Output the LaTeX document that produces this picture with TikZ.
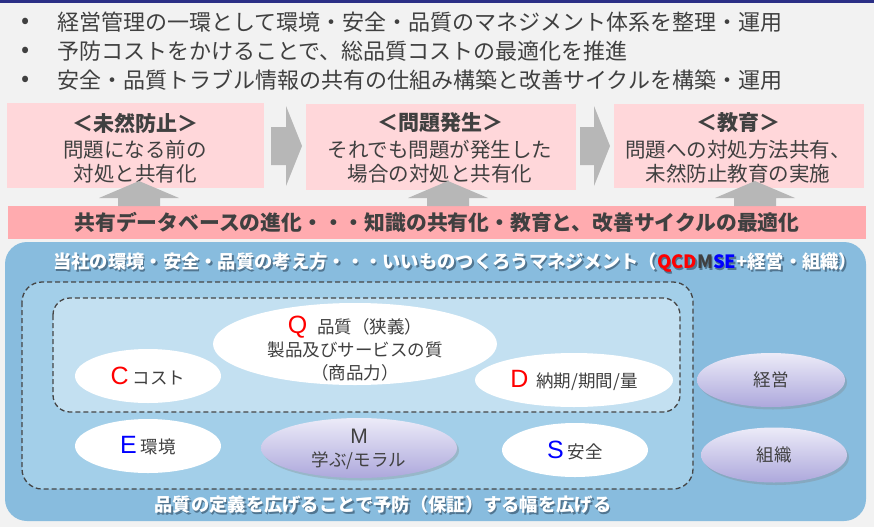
\documentclass[tikz,border=0pt]{standalone}
\usepackage{fontspec}
\setmainfont{Noto Sans CJK JP}
\newfontfamily\latf{Liberation Sans}
\usetikzlibrary{shapes.geometric,shadows}
\definecolor{bgc}{HTML}{F2F2F2}
\definecolor{navy}{HTML}{2B2F86}
\definecolor{tgray}{HTML}{404040}
\definecolor{pinkbox}{HTML}{FFD7DA}
\definecolor{pinkbar}{HTML}{FFABAF}
\definecolor{arrgray}{HTML}{B7B7B7}
\definecolor{blueout}{HTML}{88BCDE}
\definecolor{bluemid}{HTML}{A3CFE9}
\definecolor{bluein}{HTML}{C3E0F1}
\definecolor{dgray}{HTML}{454545}
\definecolor{ptop}{HTML}{ECEBF8}
\definecolor{pbot}{HTML}{ADA8DC}
\definecolor{qred}{HTML}{FF0000}
\definecolor{sblue}{HTML}{0000FF}
\definecolor{mgray}{HTML}{404040}
\definecolor{shc}{HTML}{3A5870}
\newcommand\mytitle[3]{当社の環境・安全・品質の考え方・・・いいものつくろうマネジメント（\textcolor{#1}{QCD}\textcolor{#2}{M}\textcolor{#3}{SE}+経営・組織）}
\tikzset{
 bul/.style={anchor=west, text=tgray, font=\fontsize{22}{26}\selectfont, inner sep=0},
 dot/.style={anchor=center, text=tgray, font=\fontsize{24}{26}\selectfont, inner sep=0},
 pbox/.style={fill=pinkbox, draw=none, inner sep=0, anchor=north west},
 gar/.style={fill=arrgray, draw=none},
 btitle/.style={text=tgray, font=\bfseries\fontsize{21}{25}\selectfont, inner sep=0},
 btxt/.style={text=tgray, align=center, font=\fontsize{20.5}{24}\selectfont, inner sep=0},
 wov/.style={ellipse, fill=white, inner sep=0},
 pov/.style={ellipse, inner sep=0, top color=ptop, bottom color=pbot,
   drop shadow={opacity=0.3, shadow xshift=2pt, shadow yshift=-2.5pt}},
 etxt/.style={text=tgray, font=\fontsize{17.5}{23}\selectfont, align=center, inner sep=0},
 dsh/.style={draw=dgray, line width=1.3pt, dash pattern=on 5pt off 3pt},
 wtxt/.style={text=white, font=\bfseries\fontsize{18.3}{22}\selectfont, inner sep=0},
 stxt/.style={text=shc, opacity=0.7, font=\bfseries\fontsize{18.3}{22}\selectfont, inner sep=0},
}
\begin{document}
\begin{tikzpicture}[x=1pt,y=-1pt]
\useasboundingbox (0,0) rectangle (874,527);
\fill[bgc] (0,0) rectangle (874,527);
\fill[navy] (0,0) rectangle (874,3);
% bullets
\node[dot] (d1) at (26,23) {•};
\node[dot] (d2) at (26,52) {•};
\node[dot] (d3) at (26,81) {•};
\node[bul] (b1) at (57,22) {経営管理の一環として環境・安全・品質のマネジメント体系を整理・運用};
\node[bul] (b2) at (57,51) {予防コストをかけることで、総品質コストの最適化を推進};
\node[bul] (b3) at (57,80) {安全・品質トラブル情報の共有の仕組み構築と改善サイクルを構築・運用};
% pink boxes
\node[pbox, minimum width=257pt, minimum height=85pt] (p1) at (7,103) {};
\node[pbox, minimum width=270pt, minimum height=86pt] (p2) at (306,104) {};
\node[pbox, minimum width=250pt, minimum height=84pt] (p3) at (614,104) {};
\node[btitle] (t1) at (135,123) {＜未然防止＞};
\node[btxt] (x1) at (135,162) {問題になる前の\\対処と共有化};
\node[btitle] (t2) at (440,123) {＜問題発生＞};
\node[btxt] (x2) at (440,162) {それでも問題が発生した\\場合の対処と共有化};
\node[btitle] (t3) at (738,123) {＜教育＞};
\node[btxt] (x3) at (738,162) {問題への対処方法共有、\\未然防止教育の実施};
% right arrows
\fill[gar] (271,127) -- (286,127) -- (286,106) -- (302,146) -- (286,186) -- (286,165) -- (271,165) -- cycle;
\fill[gar] (580,127) -- (594,127) -- (594,106) -- (610,146) -- (594,186) -- (594,165) -- (580,165) -- cycle;
% pink bar
\node[fill=pinkbar, inner sep=0, anchor=north west, minimum width=858pt, minimum height=33pt] (bar) at (8,206) {};
\node[text=tgray, font=\bfseries\fontsize{20.8}{24}\selectfont, inner sep=0] (bart) at (437,222) {共有データベースの進化・・・知識の共有化・教育と、改善サイクルの最適化};
% up arrows
\foreach \cx/\nm in {139/u1,448/u2,755/u3}{
  \fill[gar] (\cx-21,206) -- (\cx-21,198) -- (\cx-40,198) -- (\cx,181) -- (\cx+40,198) -- (\cx+21,198) -- (\cx+21,206) -- cycle;
}
% main blue panel
\fill[blueout, rounded corners=22pt] (5,242) rectangle (866,521);
\node[stxt, anchor=west] (tts) at (54.5,264.5) {\mytitle{shc}{shc}{shc}};
\node[wtxt, anchor=west] (tt) at (53,263) {\mytitle{qred}{mgray}{sblue}};
% dashed regions
\filldraw[dsh, fill=bluemid, rounded corners=20pt] (22,282) rectangle (693,489);
\filldraw[dsh, fill=bluein, rounded corners=17pt] (53,298) rectangle (680,412);
% ellipses
\node[wov, minimum width=284pt, minimum height=82pt] (oq) at (355,344) {};
\node[etxt] (tq) at (355,349) {\textcolor{qred}{\latf\fontsize{25}{28}\selectfont Q}\hspace{10pt}品質（狭義）\\製品及びサービスの質\\（商品力）};
\node[wov, minimum width=146pt, minimum height=54pt] (oc) at (148,376) {};
\node[etxt] (tc) at (148,376) {\textcolor{qred}{\latf\fontsize{25}{28}\selectfont C}\hspace{4pt}コスト};
\node[wov, minimum width=198pt, minimum height=54pt] (od) at (574,380) {};
\node[etxt] (td) at (574,380) {\textcolor{qred}{\latf\fontsize{25}{28}\selectfont D}\hspace{8pt}納期/期間/量};
\node[wov, minimum width=146pt, minimum height=54pt] (oe) at (148,446) {};
\node[etxt] (te) at (148,446) {\textcolor{sblue}{\latf\fontsize{25}{28}\selectfont E}\hspace{4pt}環境};
\node[pov, minimum width=196pt, minimum height=60pt] (om) at (359,448) {};
\node[etxt] (tm) at (359,449) {{\latf\fontsize{21}{24}\selectfont M}\\学ぶ/モラル};
\node[wov, minimum width=146pt, minimum height=54pt] (os) at (575,450) {};
\node[etxt] (ts) at (575,450) {\textcolor{sblue}{\latf\fontsize{25}{28}\selectfont S}\hspace{4pt}安全};
\node[pov, minimum width=148pt, minimum height=54pt] (ok) at (771,380) {};
\node[etxt] (tk) at (771,380) {経営};
\node[pov, minimum width=146pt, minimum height=55pt] (oo) at (774,455) {};
\node[etxt] (to) at (774,455) {組織};
% bottom text
\node[stxt] (bts) at (384.5,506.5) {品質の定義を広げることで予防（保証）する幅を広げる};
\node[wtxt] (bt) at (383,505) {品質の定義を広げることで予防（保証）する幅を広げる};
\end{tikzpicture}
\end{document}
